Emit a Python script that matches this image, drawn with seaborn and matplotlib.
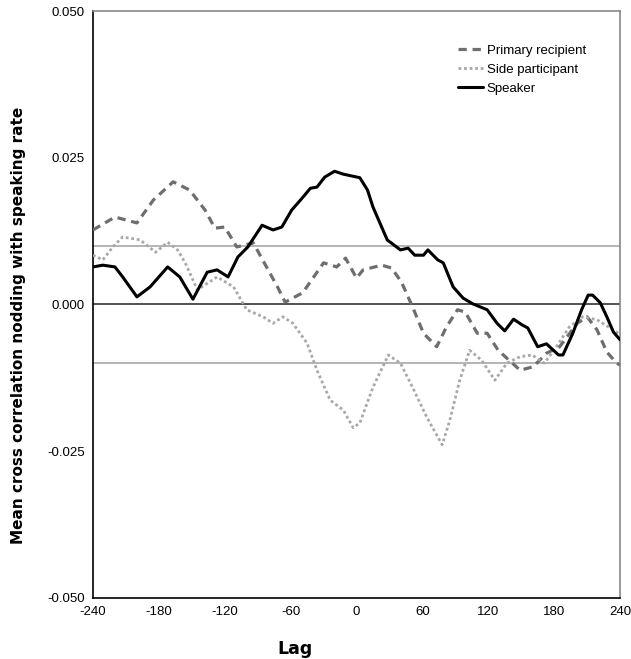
import pandas as pd
import matplotlib.pyplot as plt
import seaborn as sns
import numpy as np

# values
speaker_lag = [-240, -231, -220, -213, -200, -188, -172, -161, -149, -136, -127, -117, -108, -99,
               -86, -76, -68, -59, -51, -42, -36, -29, -20, -12, 3, 10, 15, 28, 40, 47, 53, 61,
               65, 74, 79, 88, 97, 106, 119, 128, 135, 143, 151, 156, 165, 173, 184, 188, 197,
               205, 211, 215, 222, 228, 234, 240]
speaker_val = [0.0064, 0.0067, 0.0064, 0.0047, 0.0013, 0.0030, 0.0064, 0.0047, 0.0009, 0.0055,
               0.0059, 0.0047, 0.0081, 0.0098, 0.0135, 0.0127, 0.0132, 0.0161, 0.0178, 0.0198,
               0.0200, 0.0217, 0.0227, 0.0222, 0.0216, 0.0195, 0.0166, 0.0110, 0.0093, 0.0096,
               0.0084, 0.0084, 0.0093, 0.0076, 0.0071, 0.0030, 0.0011, 0.0001, -0.0009, -0.0032,
               -0.0045, -0.0025, -0.0035, -0.0040, -0.0072, -0.0067, -0.0086, -0.0086, -0.0049,
               -0.0009, 0.0016, 0.0016, 0.0003, -0.0021, -0.0047, -0.0060]

primary_lag = [-240, -220, -200, -185, -167, -152, -138, -129, -120, -109, -94, -82, -72, -65,
               -49, -30, -18, -10, 0, 6, 23, 32, 41, 51, 61, 73, 82, 92, 99, 110, 119, 129, 149,
               161, 173, 185, 201, 210, 219, 228, 237, 240]
primary_val = [0.0127, 0.0149, 0.0139, 0.0178, 0.0209, 0.0195, 0.0161, 0.0130, 0.0132, 0.0098,
               0.0105, 0.0064, 0.0030, 0.0004, 0.0020, 0.0071, 0.0064, 0.0079, 0.0045, 0.0059,
               0.0067, 0.0062, 0.0038, -0.0004, -0.0049, -0.0072, -0.0038, -0.0009, -0.0013,
               -0.0049, -0.0049, -0.0078, -0.0112, -0.0106, -0.0083, -0.0072, -0.0032, -0.0021,
               -0.0043, -0.0081, -0.0100, -0.0103]

side_lag = [-240, -231, -222, -213, -197, -183, -172, -163, -156, -145, -127, -112, -100, -85,
            -76, -67, -58, -45, -36, -24, -12, -3, 3, 15, 29, 40, 51, 64, 78, 85, 94, 103, 114,
            126, 137, 149, 160, 171, 182, 194, 206, 219, 231, 240]
side_val = [0.0084, 0.0076, 0.0098, 0.0115, 0.0110, 0.0089, 0.0106, 0.0093, 0.0071, 0.0025,
            0.0047, 0.0030, -0.0009, -0.0021, -0.0032, -0.0021, -0.0032, -0.0066, -0.0112,
            -0.0163, -0.0180, -0.0210, -0.0202, -0.0141, -0.0086, -0.0100, -0.0141, -0.0192,
            -0.0239, -0.0197, -0.0129, -0.0078, -0.0095, -0.0129, -0.0100, -0.0089, -0.0086,
            -0.0100, -0.0072, -0.0038, -0.0021, -0.0026, -0.0040, -0.0051]

x_ticks = [-240, -180, -120, -60, 0, 60, 120, 180, 240]
y_ticks = [-0.050, -0.025, 0.000, 0.025, 0.050]
ref_lines = [0.01, -0.01]

sns.set_style('white')
plt.rcParams['font.family'] = ['Liberation Sans', 'DejaVu Sans']
plt.rcParams['text.color'] = 'black'
plt.rcParams['axes.labelcolor'] = 'black'
plt.rcParams['xtick.color'] = 'black'
plt.rcParams['ytick.color'] = 'black'

fig = plt.figure(figsize=(6.31, 6.59), dpi=100)
ax = fig.add_axes([0.1474, 0.0926, 0.8352, 0.8907])

# reference lines
for r in ref_lines:
    ax.axhline(r, color='#a8a8a8', linewidth=1.2, zorder=1)
ax.axhline(0, color='#333333', linewidth=1.2, zorder=1)

sns.lineplot(x=primary_lag, y=primary_val, ax=ax, color='#6e6e6e', linewidth=2.3,
             linestyle=(0, (2.6, 1.8)), label='Primary recipient', zorder=3)
sns.lineplot(x=side_lag, y=side_val, ax=ax, color='#a8a8a8', linewidth=2.0,
             linestyle=(0, (1, 1)), label='Side participant', zorder=3)
sns.lineplot(x=speaker_lag, y=speaker_val, ax=ax, color='black', linewidth=2.2,
             label='Speaker', zorder=4)

ax.set_xlim(-240, 240)
ax.set_ylim(-0.05, 0.05)
ax.set_xticks(x_ticks)
ax.set_xticklabels([str(t) for t in x_ticks])
ax.set_yticks(y_ticks)
ax.set_yticklabels(['%.3f' % t for t in y_ticks])
ax.tick_params(axis='both', direction='out', length=5, width=1, color='black',
               labelcolor='black', labelsize=9.5, pad=1)

for s in ['left', 'bottom']:
    ax.spines[s].set_color('black')
    ax.spines[s].set_linewidth(1.2)
for s in ['top', 'right']:
    ax.spines[s].set_color('#888888')
    ax.spines[s].set_linewidth(1.2)

ax.set_xlabel('Lag', fontsize=12.5, fontweight='bold', family='DejaVu Sans')
ax.set_ylabel('Mean cross correlation nodding with speaking rate', fontsize=11,
              fontweight='bold', family='DejaVu Sans')
ax.xaxis.set_label_coords(0.383, -0.072)
ax.yaxis.set_label_coords(-0.127, 0.465)

leg = ax.legend(loc='upper right', bbox_to_anchor=(0.958, 0.963), frameon=False,
                fontsize=9.5, handlelength=1.9, handletextpad=0.25, labelspacing=0.5)

plt.savefig('out.png', dpi=100)
